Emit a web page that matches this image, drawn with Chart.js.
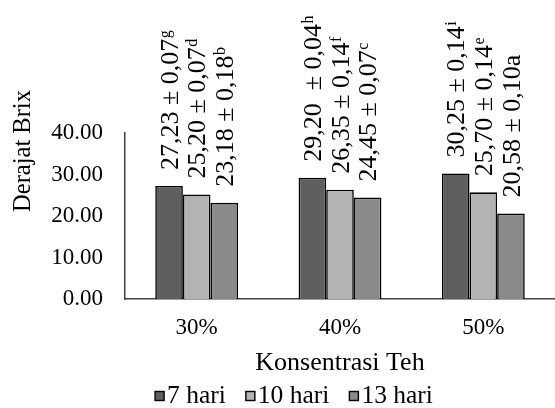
<!DOCTYPE html>
<html>
<head>
<meta charset="utf-8">
<script src="https://cdn.jsdelivr.net/npm/chart.js@4.4.1/dist/chart.umd.min.js"></script>
<style>
  html, body { margin: 0; padding: 0; background: #ffffff; }
  canvas { display: block; }
</style>
</head>
<body>
<canvas id="c" width="555" height="408"></canvas>
<script>
// ---- data ----
const categories = ['30%', '40%', '50%'];
const seriesNames = ['7 hari', '10 hari', '13 hari'];
const hari7 = [27.23, 29.20, 30.25];
const hari10 = [25.20, 26.35, 25.70];
const hari13 = [23.18, 24.45, 20.58];
const labels7 = ['27,23 ± 0,07', '29,20  ± 0,04', '30,25 ± 0,14'];
const sup7 = ['g', 'h', 'i'];
const labels10 = ['25,20 ± 0,07', '26,35 ± 0,14', '25,70 ± 0,14'];
const sup10 = ['d', 'f', 'e'];
const labels13 = ['23,18 ± 0,18', '24,45 ± 0,07', '20,58 ± 0,10a'];
const sup13 = ['b', 'c', ''];
const yTitle = 'Derajat Brix';
const xTitle = 'Konsentrasi Teh';
const yMin = 0, yMax = 40, yStep = 10;

// ---- styles ----
const FONT = '"Liberation Serif", "Times New Roman", serif';
const colors = ['#5f5f5f', '#b3b3b3', '#8a8a8a'];
const axisColor = '#404040';

const valueSets = [hari7, hari10, hari13];
const labelSets = [labels7, labels10, labels13];
const supSets = [sup7, sup10, sup13];

const datasets = seriesNames.map((name, i) => ({
  label: name,
  data: valueSets[i],
  backgroundColor: colors[i],
  borderColor: '#000000',
  borderWidth: 1.6,
  categoryPercentage: 0.578,
  barPercentage: 1.0
}));

// value labels (rotated, with superscripts)
const valueLabelPlugin = {
  id: 'valueLabels',
  afterDatasetsDraw(chart) {
    const ctx = chart.ctx;
    chart.data.datasets.forEach((ds, i) => {
      const meta = chart.getDatasetMeta(i);
      meta.data.forEach((bar, j) => {
        const main = labelSets[i][j];
        const sup = supSets[i][j];
        ctx.save();
        ctx.translate(bar.x, bar.y - 16);
        ctx.rotate(-Math.PI / 2);
        ctx.fillStyle = '#000';
        ctx.textAlign = 'left';
        ctx.textBaseline = 'alphabetic';
        ctx.font = '26px ' + FONT;
        const base = 8.6;
        ctx.fillText(main, 0, base);
        const w = ctx.measureText(main).width;
        if (sup) {
          ctx.font = '16px ' + FONT;
          ctx.fillText(sup, w + 0.5, base - 8);
        }
        ctx.restore();
      });
    });
  }
};

// y title and legend
const decorPlugin = {
  id: 'decor',
  afterDraw(chart) {
    const ctx = chart.ctx;
    ctx.save();
    // y-axis title
    ctx.translate(24, 151);
    ctx.rotate(-Math.PI / 2);
    ctx.font = '24.5px ' + FONT;
    ctx.fillStyle = '#000';
    ctx.textAlign = 'center';
    ctx.textBaseline = 'middle';
    ctx.fillText(yTitle, 0, 0);
    ctx.restore();

    // legend
    ctx.save();
    ctx.font = '25.5px ' + FONT;
    const box = 9, gapBox = 3, gapItem = 20;
    const widths = chart.data.datasets.map(d => box + gapBox + ctx.measureText(d.label).width);
    const total = widths.reduce((a, b) => a + b, 0) + gapItem * (widths.length - 1);
    let x = 294 - total / 2;
    const baseY = 403;
    chart.data.datasets.forEach((d, i) => {
      ctx.fillStyle = d.backgroundColor;
      ctx.fillRect(x, 391.5, box, box);
      ctx.strokeStyle = '#000';
      ctx.lineWidth = 1.4;
      ctx.strokeRect(x, 391.5, box, box);
      ctx.fillStyle = '#000';
      ctx.textAlign = 'left';
      ctx.textBaseline = 'alphabetic';
      ctx.fillText(d.label, x + box + gapBox, baseY);
      x += widths[i] + gapItem;
    });
    ctx.restore();
  }
};

new Chart(document.getElementById('c'), {
  type: 'bar',
  data: { labels: categories, datasets: datasets },
  options: {
    responsive: false,
    devicePixelRatio: 1,
    animation: false,
    layout: { padding: { top: 133, left: 0, right: -4, bottom: 29 } },
    plugins: {
      legend: { display: false },
      tooltip: { enabled: false }
    },
    scales: {
      x: {
        grid: { display: false, drawTicks: false },
        border: { display: true, color: axisColor, width: 1.5 },
        ticks: { color: '#000', font: { family: FONT, size: 23 }, padding: 15 },
        title: {
          display: true, text: xTitle, color: '#000',
          font: { family: FONT, size: 26 }, padding: { top: 0, bottom: 0 }
        },
        afterFit(s) { s.height = 80; }
      },
      y: {
        min: yMin, max: yMax,
        grid: { display: false, drawTicks: false },
        border: { display: true, color: axisColor, width: 1.5 },
        ticks: {
          stepSize: yStep, color: '#000', padding: 22,
          font: { family: FONT, size: 23 },
          callback: v => Number(v).toFixed(2)
        },
        afterFit(s) { s.width = 125; }
      }
    }
  },
  plugins: [valueLabelPlugin, decorPlugin]
});
</script>
</body>
</html>
